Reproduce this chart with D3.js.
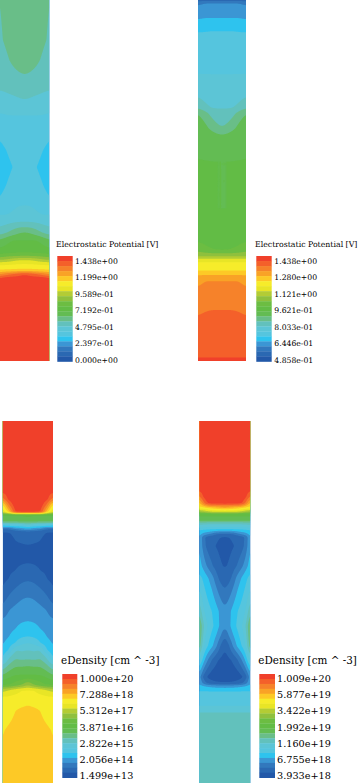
<!DOCTYPE html>
<html><head><meta charset="utf-8">
<script src="https://cdn.jsdelivr.net/npm/d3@7"></script>
<style>html,body{margin:0;padding:0;background:#fff;overflow:hidden}svg{display:block}
text{font-family:"DejaVu Serif",serif;fill:#000}</style></head>
<body><svg id="c" width="363" height="784"></svg>
<script>
// Colour levels, lowest to highest
const palette=["#2358a8","#2a68b2","#3078bd","#3a96d4","#2fc3ee","#55c5de","#5cc5d6","#62c1bc","#69be88","#63bc52","#62bc45","#6cbd42","#8fc03c","#b3cc35","#e8e525","#f6ec2c","#fdc926","#f9a226","#f6822a","#f4602a","#f03f2c"];

// Titles and colour-bar labels
const title1="Electrostatic Potential [V]";
const title3="eDensity [cm ^ -3]";
const ticks1=["1.438e+00","1.199e+00","9.589e-01","7.192e-01","4.795e-01","2.397e-01","0.000e+00"];
const ticks2=["1.438e+00","1.280e+00","1.121e+00","9.621e-01","8.033e-01","6.446e-01","4.858e-01"];
const ticks3=["1.000e+20","7.288e+18","5.312e+17","3.871e+16","2.822e+15","2.056e+14","1.499e+13"];
const ticks4=["1.009e+20","5.877e+19","3.422e+19","1.992e+19","1.160e+19","6.755e+18","3.933e+18"];

// Field samples: depth along the device, then colour-level values from the wall to the axis (mirrored)
const depth1=[0,40,60,75,90,100,115,138,150,167,185,200,215,222,232,240,252,256,260,264,268,271,274,278,361];
const field1=[
[7.9,8.4,8.6,8.6,8.6],[7.8,8.2,8.5,8.6,8.6],[7.5,7.8,8.2,8.4,8.5],[7.2,7.4,7.7,7.9,8.0],[7.0,7.1,7.2,7.3,7.4],
[6.6,6.7,6.8,6.9,7.0],[5.9,6.0,6.0,6.0,6.0],[5.0,5.5,5.7,5.8,5.8],[4.6,5.0,5.4,5.6,5.6],[4.2,4.6,5.0,5.3,5.4],
[4.6,5.0,5.4,5.6,5.6],[5.0,5.5,5.7,5.8,5.8],[6.0,6.0,6.1,6.3,6.4],[6.6,6.7,6.9,7.0,7.0],[7.4,7.8,8.3,8.8,9.0],
[9.0,9.6,10,10,10],[10.5,10.6,10.8,10.8,10.8],[11.5,11.8,11.9,12,12],[13,13.2,13.6,14,14],[14.8,14.8,14.9,15,15],
[15.5,15.5,15.6,15.7,15.7],[16.5,16.6,16.7,16.8,16.8],[17.8,18.5,19,19.5,20],[20,20.5,20.5,20.5,20.5],[20.5,20.5,20.5,20.5,20.5]];

const depth2=[0,3,8,18,26,31,36,60,74,95,108,113,128,135,160,210,240,250,255,258,262,270,273,278,281,287,310,316,356,358,361];
const field2=[
[1.5,1.5,1.5,1.5,1.5],[2.6,3,3,3,3],[3.4,3.4,3.4,3.4,3.4],[3.9,4,4,4,4],[4.5,4.5,4.5,4.5,4.5],[4.9,4.9,5,5,5],
[5.3,5.3,5.3,5.3,5.3],[5.7,5.7,5.7,5.7,5.7],[6,6,6,6,6],[6.9,6.5,6.3,6.2,6.2],[8,7.5,7,6.95,6.95],[9,8.4,7.8,7.4,7.3],
[10,9.5,8.8,8.3,8],[10,10,9.6,9.2,9],[10,10,10,10,10],[10.2,10.1,10,10,10],[10.9,10.6,10.4,10.2,10],[11.8,11.5,11.2,11,11],
[12.5,12.5,12.5,12.5,12.5],[13.8,13.8,13.8,13.8,13.8],[15,15,15,15,15],[15.9,15.9,15.9,15.9,15.9],[16.5,16.5,16.5,16.5,16.5],
[17.5,17.8,17.8,17.8,17.8],[17.7,18,18,18,18],[18,18.2,18.2,18.2,18.2],[18.7,18.9,19,19,19],[19,19.2,19.2,19.2,19.2],
[19.6,19.6,19.6,19.6,19.6],[20.2,20.2,20.2,20.2,20.2],[20.4,20.4,20.4,20.4,20.4]];

const depth3=[0,70,78,84,91,94,101,103,106,108,111,120,132,142,150,158,167,176,189,198,208,216,222,229,235,245,254,264,269,275,284,290,300,309,362];
const field3=[
[20.6,20.6,20.6,20.6,20.6],[20.4,20.6,20.6,20.6,20.6],[18.5,20.5,20.7,20.7,20.7],[15.5,19,20.7,20.7,20.7],[14,16.5,20.3,20.5,20.5],
[10,10,10,10,10.5],[9,9,9,9,9],[6,6.5,6.5,7,7.5],[4,4,4.5,4.5,5],[2,2,3,3.5,3.9],[1,1,1.2,1.4,1.5],[.5,.7,1,1.1,1.2],
[.4,.6,.6,.6,.6],
[.56,.75,.8,.93,1],[.69,.88,1,1.33,1.44],[.81,1,1.47,1.78,1.89],[.97,1.56,2,2.3,2.44],[1.47,2.13,2.6,2.9,3],
[2.36,3,3.27,3.44,3.52],[3,3.33,3.62,3.8,3.88],[3.36,3.7,4,4.36,4.5],[3.64,4,4.57,4.93,5.07],[3.86,4.46,5,5.8,6],
[4.23,5,7,6.86,7],[4.69,6.67,7.67,7.4,7.5],[7.2,8.3,8.9,8.9,9],[9,9.6,10,10,10],
[11,11,11.5,12,13],[13.5,14,14.5,15,15],[15,15,15.2,15.3,15.4],[15.2,15.4,15.6,15.8,16],[15.3,15.6,16,16.3,16.4],[15.6,15.9,16.2,16.4,16.4],[15.9,16.2,16.4,16.5,16.5],[16.5,16.5,16.5,16.5,16.5]];

const depth4=[0,68,76,82,87,91,93,100,102,106,109,113,116,125,145,157,168,190,205,214,225,239,250,256,262,265,270,285,292,362];
const field4=[
[20.7,20.7,20.7,20.7,20.7,20.7,20.7],[20.4,20.7,20.7,20.7,20.7,20.7,20.7],[18.5,20.3,20.7,20.7,20.7,20.7,20.7],[16.5,18.8,20.3,20.5,20.5,20.5,20.5],
[15.5,15.5,16,16.3,16.5,16.8,17],[12.5,13,13.5,14,14,14,14],[10.5,10.5,10.5,10.5,10.5,10.5,10.5],[9,9,9,9,9,9,9],[7.5,7.5,7.5,7.5,7.5,7.5,7.5],
[6.5,6.2,6,6,6,6,6],[5,4.9,4.8,4.7,4.6,4.5,4.5],[4.5,3.6,3.2,2.7,2,1.9,1.9],[4.2,2.2,1.6,1.4,1.2,1,.9],[4.2,2.4,1.6,1.2,.95,.7,.6],
[4.6,3.6,2.8,2.1,1.6,1.1,.9],[5.4,4.8,4.1,3.4,2.4,1.6,1.3],[6,5.2,4.6,4,3.1,2.4,1.95],[8,6,5.4,5,4.4,3.7,3.2],[9.4,7,5.9,5.2,4.6,3.7,3.2],
[9.4,6.6,5.5,4.8,4,3.2,2],[9,6,5,4.2,3.2,1.9,1],[6.5,4.3,3,1.9,1.2,.8,.6],[4.5,2.6,1.5,.9,.6,.4,.4],[3.8,1.5,.8,.5,.4,.4,.4],[4,2.6,1.7,1.4,1.2,1.1,1.1],
[4.4,4,3.8,3.6,3.5,3.4,3.4],[5,5,5,5,5,5,5],[6,6,6,6,6,6,6],[7.1,7.1,7.1,7.1,7.1,7.1,7.1],[7.4,7.4,7.4,7.4,7.4,7.4,7.4]];

const panels=[
 {depth:depth1,field:field1,x:[0,49.3],y:[0,361],title:title1,ticks:ticks1,tx:56,ty:247,fs:7.7,ts:7.8,bar:[57.3,72.7],by:[256,361.5],ly:[260.7,360],lx:75},
 {depth:depth2,field:field2,x:[198,246],y:[0,361],title:title1,ticks:ticks2,tx:255,ty:247,fs:7.7,ts:7.8,bar:[256.3,271.7],by:[256,361.5],ly:[260.7,360],lx:274.3},
 {depth:depth3,field:field3,x:[2.7,53],y:[421,783],title:title3,ticks:ticks3,tx:61,ty:664,fs:9.7,ts:10.4,bar:[62.3,77.3],by:[674,777.7],ly:[678.3,775.7],lx:79.5},
 {depth:depth4,field:field4,x:[199.3,250.3],y:[421,783],title:title3,ticks:ticks4,tx:258.3,ty:664,fs:9.7,ts:10.4,bar:[259.3,275],by:[674,777.7],ly:[678.3,775.7],lx:277}
];

const svg=d3.select("#c");
const defs=svg.append("defs");
defs.append("filter").attr("id","soft").attr("x","-5%").attr("y","-5%").attr("width","110%").attr("height","110%")
  .append("feGaussianBlur").attr("stdDeviation",0.45);

panels.forEach((p,pi)=>{
  const half=p.field[0].length;
  const top=d3.max(p.depth);
  // resample the sampled field on a fine render grid so the bands come out rounded
  const W=Math.round((p.x[1]-p.x[0])*2), H=Math.round((p.y[1]-p.y[0])*2);
  const cols=d3.range(half).map(k=>d3.scaleLinear().domain(p.depth).range(p.field.map(r=>r[k])));
  const gridY=d3.scaleLinear().domain([0,H-1]).range([0,top]);
  const gridX=d3.scaleLinear().domain([0,(W-1)/2]).range([0,half-1]);
  const data=new Float64Array(W*H);
  for(let j=0;j<H;j++){
    const d=gridY(j), vals=cols.map(c=>c(d));
    const row=d3.scaleLinear().domain(d3.range(half)).range(vals);
    for(let i=0;i<W;i++){
      data[j*W+i]=row(gridX(Math.min(i,W-1-i)));
    }
  }
  if(d3.blur2) d3.blur2({data,width:W,height:H},pi>=2?3:5,1);
  const xs=d3.scaleLinear().domain([0.5,W-0.5]).range(p.x).clamp(true);
  const ys=d3.scaleLinear().domain([0.5,H-0.5]).range(p.y).clamp(true);
  const contours=d3.contours().size([W,H]).smooth(true).thresholds(d3.range(0,palette.length))(Array.from(data));
  const path=d3.geoPath(d3.geoTransform({point(x,y){this.stream.point(xs(x),ys(y));}}));
  defs.append("clipPath").attr("id","clip"+pi).append("rect")
    .attr("x",p.x[0]).attr("y",p.y[0]).attr("width",p.x[1]-p.x[0]).attr("height",p.y[1]-p.y[0]);
  const g=svg.append("g").attr("filter","url(#soft)").append("g").attr("clip-path",`url(#clip${pi})`);
  g.selectAll("path").data(contours).join("path").attr("d",path)
    .attr("fill",d=>palette[Math.min(d.value,palette.length-1)]);

  // colour bar
  const levels=d3.range(palette.length).reverse();
  const band=d3.scaleBand().domain(levels).range(p.by);
  svg.append("g").attr("filter","url(#soft)").selectAll("rect").data(levels).join("rect")
    .attr("x",p.bar[0]).attr("width",p.bar[1]-p.bar[0])
    .attr("y",d=>band(d)).attr("height",band.bandwidth()+0.3)
    .attr("fill",d=>palette[d]);

  // labels
  const ly=d3.scalePoint().domain(p.ticks).range(p.ly);
  const axis=d3.axisRight(ly).tickSize(0).tickPadding(0);
  const ag=svg.append("g").attr("transform",`translate(${p.lx},0)`).call(axis);
  ag.select(".domain").remove();
  ag.selectAll("text").attr("font-family",'"DejaVu Serif",serif').attr("font-size",p.fs).attr("fill","#000");
  svg.append("text").attr("x",p.tx).attr("y",p.ty).attr("font-size",p.ts).text(p.title);
});
</script></body></html>
